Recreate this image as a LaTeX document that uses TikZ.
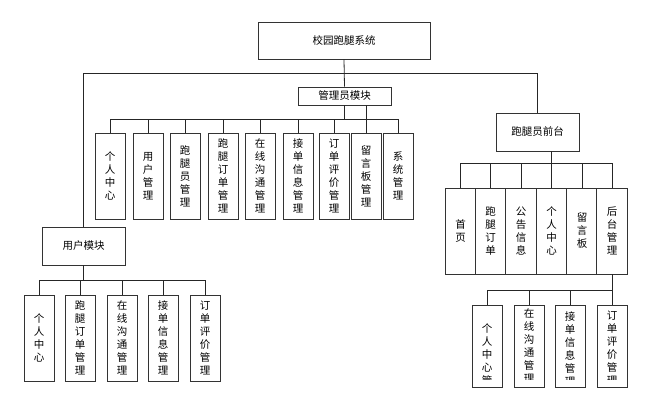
\documentclass[tikz,border=0pt]{standalone}
\usepackage{fontspec}
\newfontfamily\cjk{Noto Sans CJK SC}
\begin{document}
\begin{tikzpicture}[x=1pt,y=-1pt,
  box/.style={draw=black!80,line width=0.9pt,fill=white,inner sep=0pt,
    font=\cjk\fontsize{10.5}{13}\selectfont,align=center},
  leaf/.style={box,minimum width=30pt,minimum height=86pt},
  vtxt/.style={inner sep=0pt,font=\cjk\fontsize{10.5}{13}\selectfont,align=center,anchor=north},
  ln/.style={draw=black!85,line width=0.8pt}]
\useasboundingbox (0,0) rectangle (661,410);
% top
\node[box,minimum width=172pt,minimum height=37pt] (sys) at (344,40.5) {校园跑腿系统};
\node[box,minimum width=93pt,minimum height=18pt] (adm) at (344.5,96) {管理员模块};
\node[box,minimum width=83pt,minimum height=38pt] (user) at (83.5,246) {用户模块};
\node[box,minimum width=83pt,minimum height=38pt] (front) at (537.5,132) {跑腿员前台};
% admin leaves
\foreach \i/\x/\t in {1/110/{个\\人\\中\\心},2/148/{用\\户\\管\\理},3/185/{跑\\腿\\员\\管\\理},
  4/223/{跑\\腿\\订\\单\\管\\理},5/260/{在\\线\\沟\\通\\管\\理},6/298/{接\\单\\信\\息\\管\\理},
  7/334/{订\\单\\评\\价\\管\\理},8/366/{留\\言\\板\\管\\理},9/398/{系\\统\\管\\理}}
  {\node[leaf] (a\i) at (\x,176) {\t};}
% user leaves
\foreach \i/\x/\t in {1/39/{个\\人\\中\\心},2/80/{跑\\腿\\订\\单\\管\\理},3/122/{在\\线\\沟\\通\\管\\理},
  4/163/{接\\单\\信\\息\\管\\理},5/205/{订\\单\\评\\价\\管\\理}}
  {\node[leaf] (u\i) at (\x,338) {\t};}
% front leaves
\foreach \i/\x/\t in {1/460.5/{首\\页},2/490.5/{跑\\腿\\订\\单},3/521/{公\\告\\信\\息},
  4/551.5/{个\\人\\中\\心},5/582/{留\\言\\板},6/612/{后\\台\\管\\理}}
  {\node[leaf,minimum width=30.5pt] (f\i) at (\x,231) {\t};}
% backend leaves (cut at the bottom)
\foreach \i/\x in {1/487,2/529,3/570,4/612}
  {\node[leaf,minimum height=82pt] (b\i) at (\x,346) {};}
\begin{scope}
\clip (0,0) rectangle (661,379.5);
\node[vtxt] (bt1) at (487,323) {个\\人\\中\\心\\管\\理};
\node[vtxt] (bt2) at (529,308) {在\\线\\沟\\通\\管\\理};
\node[vtxt] (bt3) at (570,311) {接\\单\\信\\息\\管\\理};
\node[vtxt] (bt4) at (612,311) {订\\单\\评\\价\\管\\理};
\end{scope}
% connectors: top level
\draw[ln] (sys.south) -- (adm.north);
\draw[ln] (user.north) -- (user.north |- 0,73) -| (front.north);
% admin
\draw[ln] (adm.south) -- (adm.south |- 0,119);
\draw[ln] (adm.south -| a8.north) -- (a8.north);
\draw[ln] (a1.north |- 0,119) -- (a9.north |- 0,119);
\foreach \i in {1,...,9} {\draw[ln] (a\i.north) -- (a\i.north |- 0,119);}
% user
\draw[ln] (user.south) -- (user.south |- 0,280);
\draw[ln] (u1.north |- 0,280) -- (u5.north |- 0,280);
\foreach \i in {1,...,5} {\draw[ln] (u\i.north) -- (u\i.north |- 0,280);}
% front
\draw[ln] (front.south -| f4.north) -- (f4.north);
\draw[ln] (f1.north |- 0,163) -- (f6.north |- 0,163);
\foreach \i in {1,...,6} {\draw[ln] (f\i.north) -- (f\i.north |- 0,163);}
% backend
\draw[ln] (f6.south) -- (f6.south |- 0,290);
\draw[ln] (b1.north |- 0,290) -- (b4.north |- 0,290);
\foreach \i in {1,...,4} {\draw[ln] (b\i.north) -- (b\i.north |- 0,290);}
\end{tikzpicture}
\end{document}
